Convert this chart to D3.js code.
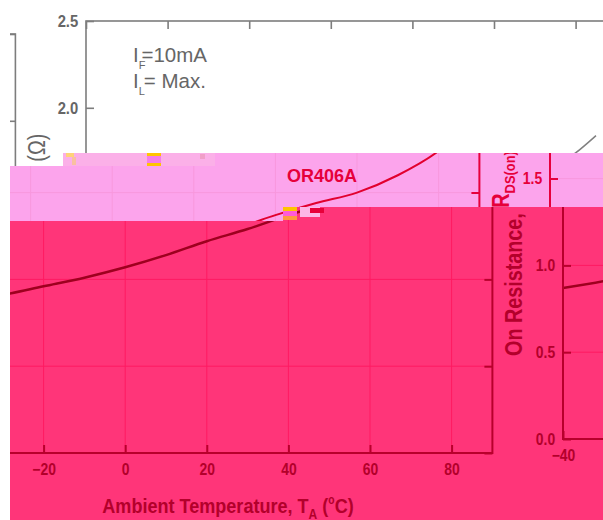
<!DOCTYPE html>
<html><head><meta charset="utf-8">
<script src="https://cdn.jsdelivr.net/npm/d3@7"></script>
<style>body{margin:0;background:#fff}svg{display:block}</style>
</head><body>
<script>
// ---- data ----
const temps = [-40,-30,-20,-10,0,10,20,30,40,50,60,70,80,85];
const rdson = [0.87,0.91,0.96,1.01,1.07,1.14,1.22,1.29,1.37,1.44,1.50,1.60,1.74,1.84];
const xTicks = [-40,-20,0,20,40,60,80];
const yTicks = [0,0.5,1.0,1.5,2.0,2.5];
const seriesLabel = "OR406A";
const condLines = [["I","F","=10mA"],["I","L","= Max."]];
const xTitleParts = ["Ambient Temperature, T","A","(","o","C)"];
const yTitleParts = ["On Resistance, R","DS(on)"," (\u03A9)"];

const W=603,H=520;
const FONT = "'Liberation Sans', Arial, sans-serif";
const svg = d3.select("body").append("svg").attr("width",W).attr("height",H);
const x = d3.scaleLinear().domain([-40,90]).range([86,616.4]);
const y = d3.scaleLinear().domain([0,2.5]).range([455,21]);

function drawChart(g, p){
  g.append("g").selectAll("line").data(xTicks.slice(1)).join("line")
    .attr("x1",d=>x(d)).attr("x2",d=>x(d)).attr("y1",y(0)).attr("y2",y(2.5))
    .attr("stroke",p.grid).attr("stroke-width",1);
  g.append("g").selectAll("line").data(yTicks.slice(1,-1)).join("line")
    .attr("x1",x(-40)).attr("x2",x(90)).attr("y1",d=>y(d)).attr("y2",d=>y(d))
    .attr("stroke",p.grid).attr("stroke-width",1);
  g.append("path").datum(d3.zip(temps,rdson))
    .attr("d", d3.line().x(d=>x(d[0])).y(d=>y(d[1])).curve(d3.curveMonotoneX))
    .attr("fill","none").attr("stroke",p.curve).attr("stroke-width",p.cw);
  const style = a => {
    a.select(".domain").remove();
    a.selectAll("line").attr("stroke",p.frame).attr("stroke-width",p.fw);
    a.selectAll("text").attr("fill",p.text).attr("font-family",FONT)
      .attr("font-weight","bold").attr("font-size",p.tick).attr("transform","scale(0.87,1)");
  };
  g.append("g").attr("transform",`translate(0,${y(0)})`)
    .call(d3.axisBottom(x).tickValues(xTicks).tickSize(-8).tickPadding(10.5)).call(style);
  g.append("g").attr("transform",`translate(0,${y(2.5)})`)
    .call(d3.axisTop(x).tickValues(xTicks).tickSize(-8).tickFormat("")).call(style);
  g.append("g").attr("transform",`translate(${x(-40)},0)`)
    .call(d3.axisLeft(y).tickValues(yTicks).tickSize(-8).tickPadding(9).tickFormat(d3.format(".1f"))).call(style);
  g.append("g").attr("transform",`translate(${x(90)},0)`)
    .call(d3.axisRight(y).tickValues(yTicks).tickSize(-8).tickFormat("")).call(style);
  g.append("rect").attr("x",x(-40)).attr("y",y(2.5)).attr("width",x(90)-x(-40)).attr("height",y(0)-y(2.5))
    .attr("fill","none").attr("stroke",p.frame).attr("stroke-width",p.fw);

  // conditions
  condLines.forEach((c,i)=>{
    const t = g.append("text").attr("x",133).attr("y",62+25.5*i).attr("fill",p.text)
      .attr("font-family",FONT).attr("font-size",20.5);
    t.append("tspan").text(c[0]);
    t.append("tspan").attr("font-size",11).attr("dy",7).attr("fill",p.text).text(c[1]);
    t.append("tspan").attr("dy",-7).attr("dx",i===0?-4:-1).text(c[2]);
  });
  // series label
  g.append("text").attr("x",424).attr("y",184).attr("fill",p.text).attr("font-family",FONT)
    .attr("font-weight","bold").attr("font-size",18).text(seriesLabel);
  // x title
  const xt = g.append("text").attr("transform",`translate(352,515) scale(0.86,1)`)
    .attr("text-anchor","middle").attr("fill",p.text).attr("font-family",FONT)
    .attr("font-weight","bold").attr("font-size",21);
  xt.append("tspan").text(xTitleParts[0]);
  xt.append("tspan").attr("font-size",14).attr("dy",6).text(xTitleParts[1]);
  xt.append("tspan").attr("dy",-6).text(" "+xTitleParts[2]);
  xt.append("tspan").attr("font-size",12).attr("dy",-9).text(xTitleParts[3]);
  xt.append("tspan").attr("dy",9).text(xTitleParts[4]);
  // y title
  const yt = g.append("text").attr("transform",`translate(45,372) rotate(-90) scale(0.86,1)`)
    .attr("fill",p.text).attr("font-family",FONT).attr("font-weight","bold").attr("font-size",23);
  yt.append("tspan").text(yTitleParts[0]);
  yt.append("tspan").attr("font-size",15).attr("dy",6).text(yTitleParts[1]);
  yt.append("tspan").attr("dy",-6).attr("font-weight",p.omegaW).text(yTitleParts[2]);
}

const layers = [
  {clip:null, bg:"#ffffff", shifts:[[0,0],[-601,13]],
   pal:{frame:"#7d7d7d",text:"#666666",curve:"#808080",grid:"none",fw:1.6,cw:1.5,omegaW:"normal",tick:17}},
  {clip:[[63,153],[603,153],[603,207],[283,207],[283,221],[10,221],[10,166],[63,166]], bg:"#fca4ec",
   shifts:[[-137,-2],[464,-16]],
   pal:{frame:"#e6003c",text:"#e6003a",curve:"#e2002e",grid:"#f898dd",fw:2,cw:2,omegaW:"bold",tick:16}},
  {clip:[[10,221],[283,221],[283,207],[603,207],[603,520],[10,520]], bg:"#ff3579",
   shifts:[[-124,-2],[477,-16]],
   pal:{frame:"#b8002c",text:"#b3002b",curve:"#9e001f",grid:"#ff1a62",fw:2,cw:2.5,omegaW:"bold",tick:16}}
];
const defs = svg.append("defs");
layers.forEach((L,i)=>{
  let g = svg.append("g");
  if(L.clip){
    defs.append("clipPath").attr("id","c"+i).append("polygon").attr("points",L.clip.map(p=>p.join(",")).join(" "));
    g.attr("clip-path",`url(#c${i})`);
  }
  g.append("rect").attr("width",W).attr("height",H).attr("fill",L.bg);
  L.shifts.forEach(s=> drawChart(g.append("g").attr("transform",`translate(${s[0]},${s[1]})`), L.pal));
});
// blank left margin strip and decorative glitch blocks
svg.append("rect").attr("x",0).attr("y",0).attr("width",10).attr("height",H).attr("fill","#ffffff");
const glitch = [
  [63,153,152,13,"#fbb0e8"],[66,153,8,4,"#ffd27a"],[72,157,4,8,"#f9c0a0"],[147,153,14,3,"#ffc400"],
  [147,156,14,7,"#f67ce8"],[147,163,14,3,"#ffc400"],[200,154,5,5,"#f0a0c8"],
  [283,207,14,4,"#ffc400"],[283,211,14,5,"#ff5ad8"],[283,216,14,4,"#ff9a40"],
  [300,207,20,10,"#fdb6e6"],[310,208,14,5,"#e8003a"]
];
svg.append("g").selectAll("rect").data(glitch).join("rect")
  .attr("x",d=>d[0]).attr("y",d=>d[1]).attr("width",d=>d[2]).attr("height",d=>d[3]).attr("fill",d=>d[4]);
</script>
</body></html>
